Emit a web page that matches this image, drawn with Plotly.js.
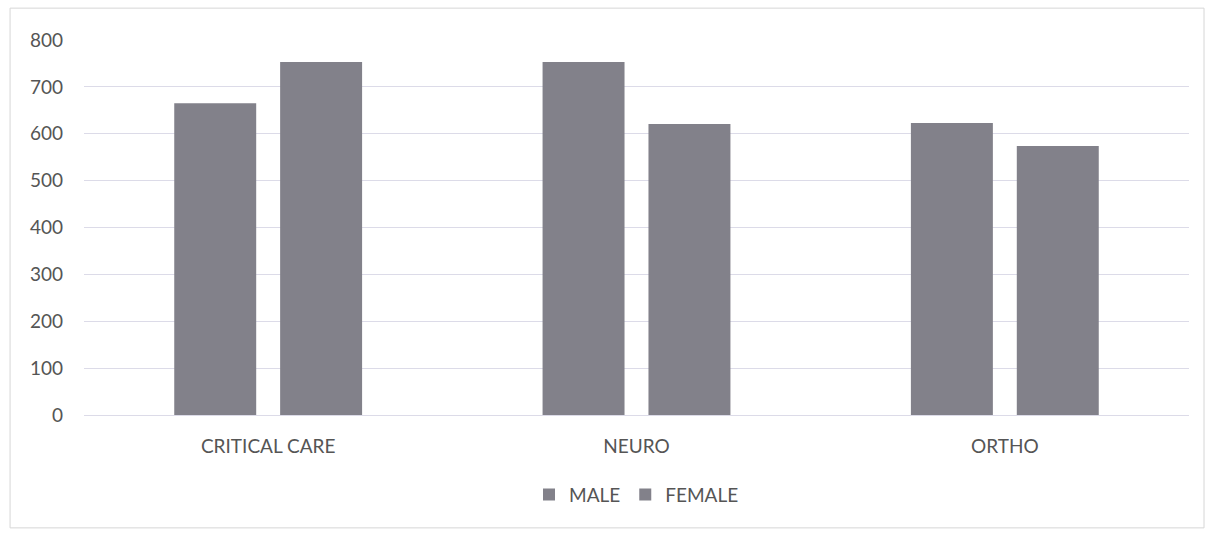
<!DOCTYPE html>
<html>
<head>
<meta charset="utf-8">
<script src="https://cdn.plot.ly/plotly-3.0.1.min.js"></script>
<style>
html,body{margin:0;padding:0;background:#fff;}
#chart{width:1215px;height:533px;}
</style>
</head>
<body>
<div id="chart"></div>
<script>
const categories = ["CRITICAL CARE", "NEURO", "ORTHO"];
const maleValues = [665, 753, 623];
const femaleValues = [753, 621, 574];
const seriesNames = ["MALE", "FEMALE"];
const yTicks = [0, 100, 200, 300, 400, 500, 600, 700, 800];

const barColor = "#82818a";
const font = {family: "Lato, 'Open Sans', sans-serif", size: 19, color: "#555555"};

const traces = [
  {type: "bar", name: seriesNames[0], x: categories, y: maleValues, marker: {color: barColor}},
  {type: "bar", name: seriesNames[1], x: categories, y: femaleValues, marker: {color: barColor}}
];

const layout = {
  width: 1215, height: 533,
  margin: {l: 84, r: 26, t: 40, b: 118},
  paper_bgcolor: "#ffffff", plot_bgcolor: "#ffffff",
  font: font,
  barmode: "group",
  bargap: 0.425,
  bargroupgap: 0.226,
  showlegend: true,
  legend: {orientation: "h", x: 0.5, xanchor: "center", y: -0.162, yanchor: "top", font: font, itemwidth: 30, tracegroupgap: 0},
  xaxis: {type: "category", showgrid: false, zeroline: false, showline: false, ticks: "", tickfont: font, ticklabelstandoff: 18},
  yaxis: {range: [0, 800], tickvals: yTicks, ticktext: yTicks.map(String), showgrid: true, gridcolor: "#dcdbe8", gridwidth: 1, zeroline: true, zerolinecolor: "#dcdbe8", zerolinewidth: 1, showline: false, ticks: "", tickfont: font, ticklabelstandoff: 20},
  shapes: [
    {type: "rect", xref: "paper", yref: "paper", x0: -0.0669, x1: 1.0136, y0: -0.301, y1: 1.085, line: {color: "#d6d6d6", width: 1}, fillcolor: "rgba(0,0,0,0)", layer: "below"}
  ]
};

Plotly.newPlot("chart", traces, layout, {displayModeBar: false, staticPlot: true});
</script>
</body>
</html>
